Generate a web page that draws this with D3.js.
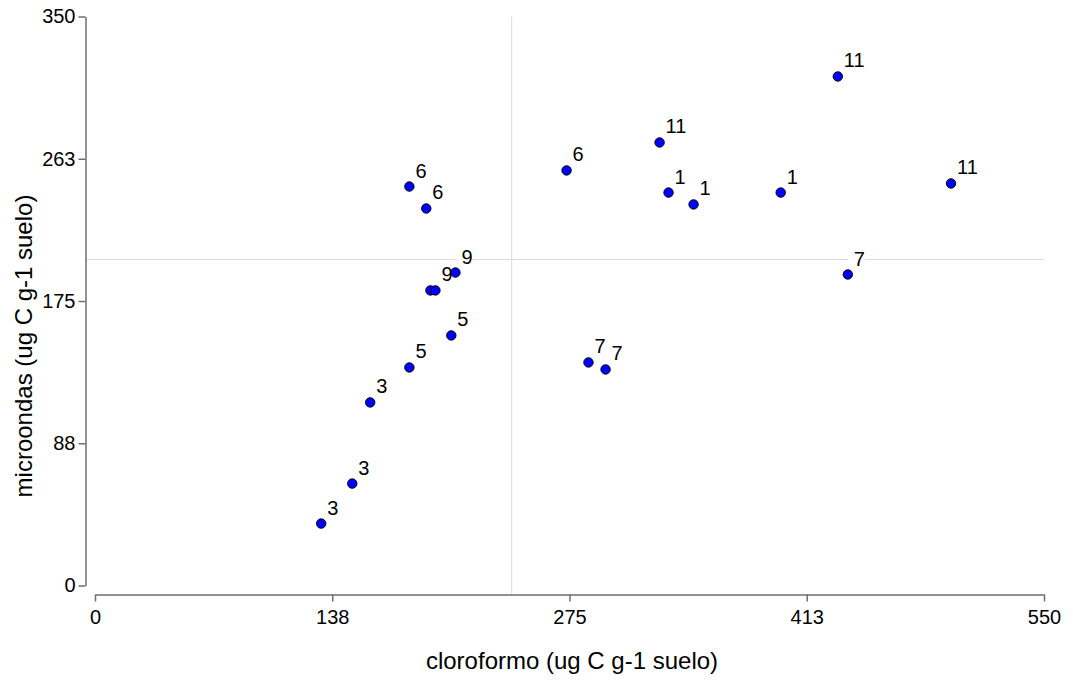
<!DOCTYPE html>
<html lang="es">
<head>
<meta charset="UTF-8">
<title>microondas vs cloroformo</title>
<script src="https://cdn.jsdelivr.net/npm/d3@7"></script>
<style>
body { margin: 0; background: #fff; }
svg { font-family: Arial, "Liberation Sans", sans-serif; }
</style>
</head>
<body>
<div id="chart"></div>
<script>
// data
const cloroformo = [131.1, 149.1, 159.5, 182.2, 206.5, 194.4, 197.3, 208.9, 182.2, 192.0,
                    273.3, 286.0, 295.9, 327.2, 332.4, 346.9, 397.4, 430.5, 436.3, 496.1];
const microondas = [38.1, 62.7, 112.6, 134.1, 153.8, 181.5, 181.5, 192.5, 245.4, 231.9,
                    255.3, 137.2, 132.9, 272.5, 241.7, 234.4, 241.7, 313.1, 191.3, 247.3];
const etiquetas  = ["3", "3", "3", "5", "5", "9", "9", "9", "6", "6",
                    "6", "7", "7", "11", "1", "1", "1", "11", "7", "11"];
const xTicks = [0, 137.5, 275, 412.5, 550];
const yTicks = [0, 87.5, 175, 262.5, 350];
const xRef = 241.5;
const yRef = 200.5;

const W = 1073, H = 681;
const AXIS_COLOR = "#6e6e6e";

const x = d3.scaleLinear().domain([0, 550]).range([95, 1044]);
const y = d3.scaleLinear().domain([0, 350]).range([585.5, 16.5]);

const svg = d3.select("#chart").append("svg")
    .attr("width", W).attr("height", H);

// reference lines
svg.append("line")
    .attr("x1", x(xRef)).attr("x2", x(xRef))
    .attr("y1", y(350)).attr("y2", 594)
    .attr("stroke", "#d9d9d9").attr("stroke-width", 1);
svg.append("line")
    .attr("x1", 85).attr("x2", x(550))
    .attr("y1", y(yRef)).attr("y2", y(yRef))
    .attr("stroke", "#d9d9d9").attr("stroke-width", 1);

// axes
const fmt = d => Math.round(d).toString();
const xAxis = svg.append("g")
    .attr("transform", "translate(0,594.5)")
    .call(d3.axisBottom(x).tickValues(xTicks).tickFormat(fmt).tickSize(7).tickSizeOuter(0).tickPadding(8));
const yAxis = svg.append("g")
    .attr("transform", "translate(85.5,0)")
    .call(d3.axisLeft(y).tickValues(yTicks).tickFormat(fmt).tickSize(7).tickSizeOuter(0).tickPadding(3));
[xAxis, yAxis].forEach(a => {
    a.select(".domain").attr("stroke", AXIS_COLOR).attr("stroke-width", 1.5);
    a.selectAll(".tick line").attr("stroke", AXIS_COLOR).attr("stroke-width", 1.5);
    a.selectAll(".tick text").attr("fill", "#000")
        .style("font-size", "20px").style("font-family", "Arial, 'Liberation Sans', sans-serif");
});

// axis titles
svg.append("text")
    .attr("x", 572).attr("y", 669)
    .attr("text-anchor", "middle")
    .style("font-size", "24px")
    .text("cloroformo (ug C g-1 suelo)");
svg.append("text")
    .attr("transform", "translate(32,346) rotate(-90)")
    .attr("text-anchor", "middle")
    .style("font-size", "24px")
    .text("microondas (ug C g-1 suelo)");

const pts = cloroformo.map((c, i) => ({ x: c, y: microondas[i], lab: etiquetas[i] }));

// labels with white box behind
const labs = svg.append("g").selectAll("g").data(pts).join("g")
    .attr("transform", d => `translate(${x(d.x) + 6},${y(d.y) - 9})`);
labs.append("text")
    .style("font-size", "20px")
    .text(d => d.lab);
labs.each(function () {
    const g = d3.select(this);
    const bb = g.select("text").node().getBBox();
    g.insert("rect", "text")
        .attr("x", bb.x - 6).attr("y", bb.y + 3)
        .attr("width", bb.width + 6).attr("height", bb.height - 6)
        .attr("fill", "#fff");
});

// points
svg.append("g").selectAll("circle").data(pts).join("circle")
    .attr("cx", d => x(d.x))
    .attr("cy", d => y(d.y))
    .attr("r", 4.7)
    .attr("fill", "#0000ff")
    .attr("stroke", "#000")
    .attr("stroke-width", 1);
</script>
</body>
</html>
